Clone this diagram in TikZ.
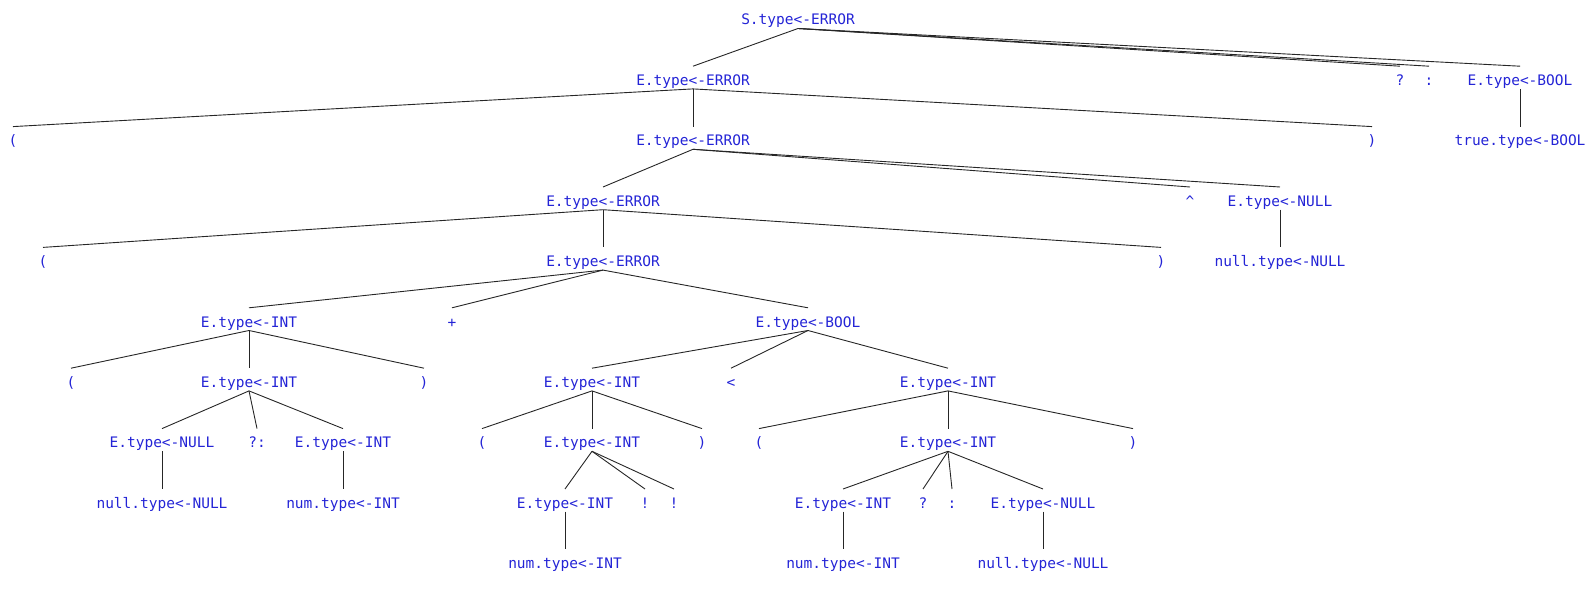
\documentclass[tikz,border=0pt]{standalone}
\usepackage{fontspec}
\setmonofont{DejaVu Sans Mono}
\usetikzlibrary{positioning}
\definecolor{attrblue}{RGB}{36,36,214}
\tikzstyle{attr} = [anchor=base, inner sep=0pt, text height=19pt, text depth=3.3pt, text=attrblue, font=\ttfamily\fontsize{14.5pt}{16pt}\selectfont]
\tikzstyle{edge} = [line width=0.9pt, draw=black!85]

\begin{document}
\begin{tikzpicture}[x=1pt, y=-1pt]
        \useasboundingbox (0,0) rectangle (1596,604);

        % Nivel 0 y 1
        \node (s0) [attr] at (798,25) {S.type<-ERROR};
        \node (e1) [attr] at (693,85.4) {E.type<-ERROR};
        \node (q1) [attr] at (1400,85.4) {?};
        \node (c1) [attr] at (1429,85.4) {:};
        \node (b1) [attr] at (1520,85.4) {E.type<-BOOL};

        % Nivel 2
        \node (lp1) [attr] at (13,145.8) {(};
        \node (e2) [attr] at (693,145.8) {E.type<-ERROR};
        \node (rp1) [attr] at (1372,145.8) {)};
        \node (true1) [attr] at (1520,145.8) {true.type<-BOOL};

        % Nivel 3
        \node (e3) [attr] at (603,206.2) {E.type<-ERROR};
        \node (caret) [attr] at (1190,206.2) {\^{}};
        \node (n1) [attr] at (1280,206.2) {E.type<-NULL};

        % Nivel 4
        \node (lp2) [attr] at (43,266.6) {(};
        \node (e4) [attr] at (603,266.6) {E.type<-ERROR};
        \node (rp2) [attr] at (1161,266.6) {)};
        \node (null1) [attr] at (1280,266.6) {null.type<-NULL};

        % Nivel 5
        \node (i5) [attr] at (249,327) {E.type<-INT};
        \node (plus) [attr] at (452,327) {+};
        \node (b5) [attr] at (808,327) {E.type<-BOOL};

        % Nivel 6
        \node (lp3) [attr] at (71,387.4) {(};
        \node (i6) [attr] at (249,387.4) {E.type<-INT};
        \node (rp3) [attr] at (424,387.4) {)};
        \node (i6b) [attr] at (592,387.4) {E.type<-INT};
        \node (lt) [attr] at (731,387.4) {<};
        \node (i6c) [attr] at (948,387.4) {E.type<-INT};

        % Nivel 7
        \node (n7) [attr] at (162,447.8) {E.type<-NULL};
        \node (qc) [attr] at (257,447.8) {?:};
        \node (i7) [attr] at (343,447.8) {E.type<-INT};
        \node (lp4) [attr] at (482,447.8) {(};
        \node (i7b) [attr] at (592,447.8) {E.type<-INT};
        \node (rp4) [attr] at (702,447.8) {)};
        \node (lp5) [attr] at (759,447.8) {(};
        \node (i7c) [attr] at (948,447.8) {E.type<-INT};
        \node (rp5) [attr] at (1133,447.8) {)};

        % Nivel 8
        \node (null2) [attr] at (162,508.2) {null.type<-NULL};
        \node (num1) [attr] at (343,508.2) {num.type<-INT};
        \node (i8) [attr] at (565,508.2) {E.type<-INT};
        \node (ex1) [attr] at (645,508.2) {!};
        \node (ex2) [attr] at (674,508.2) {!};
        \node (i8b) [attr] at (843,508.2) {E.type<-INT};
        \node (q2) [attr] at (923,508.2) {?};
        \node (c2) [attr] at (952,508.2) {:};
        \node (n8) [attr] at (1043,508.2) {E.type<-NULL};

        % Nivel 9
        \node (num2) [attr] at (565,568.6) {num.type<-INT};
        \node (num3) [attr] at (843,568.6) {num.type<-INT};
        \node (null3) [attr] at (1043,568.6) {null.type<-NULL};

        % Conexiones
        \foreach \p/\c in {s0/e1, s0/q1, s0/c1, s0/b1,
                           e1/lp1, e1/e2, e1/rp1, b1/true1,
                           e2/e3, e2/caret, e2/n1, n1/null1,
                           e3/lp2, e3/e4, e3/rp2,
                           e4/i5, e4/plus, e4/b5,
                           i5/lp3, i5/i6, i5/rp3,
                           i6/n7, i6/qc, i6/i7, n7/null2, i7/num1,
                           b5/i6b, b5/lt, b5/i6c,
                           i6b/lp4, i6b/i7b, i6b/rp4,
                           i7b/i8, i7b/ex1, i7b/ex2, i8/num2,
                           i6c/lp5, i6c/i7c, i6c/rp5,
                           i7c/i8b, i7c/q2, i7c/c2, i7c/n8,
                           i8b/num3, n8/null3}
            \draw [edge] (\p.south) -- (\c.north);

    \end{tikzpicture}
\end{document}
